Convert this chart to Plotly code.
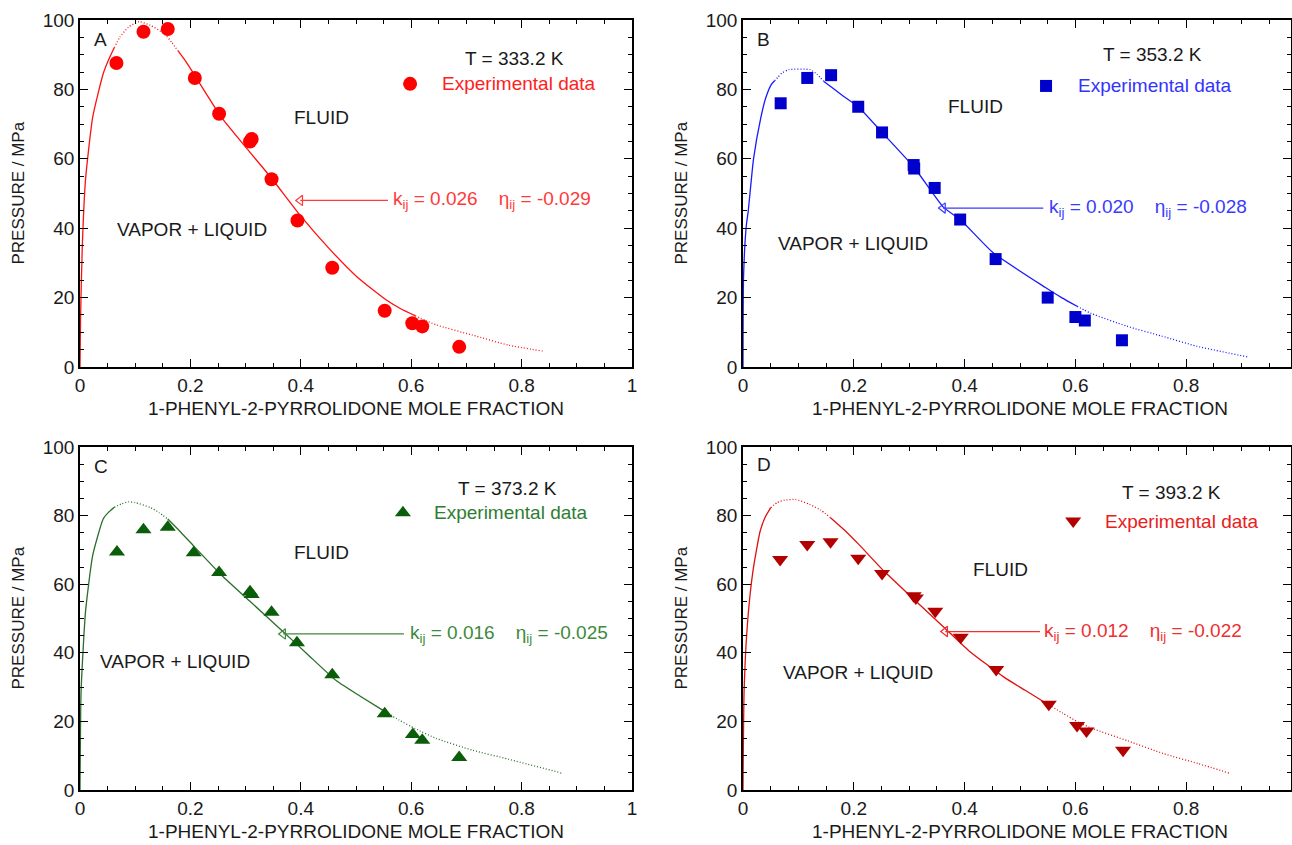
import plotly.graph_objects as go

# ---------------- data ----------------
# Panel A, T = 333.2 K
a_exp_x = [0.066, 0.115, 0.159, 0.208, 0.252, 0.308, 0.311, 0.347, 0.394, 0.457, 0.552, 0.602, 0.620, 0.687]
a_exp_p = [87.6, 96.6, 97.4, 83.3, 73.0, 65.0, 65.7, 54.1, 42.2, 28.6, 16.2, 12.6, 11.7, 5.8]
a_fit_x = [0, 0.001, 0.004, 0.010, 0.023, 0.042, 0.052, 0.062, 0.072, 0.088, 0.107, 0.127, 0.153, 0.166,
           0.178, 0.191, 0.204, 0.256, 0.302, 0.347, 0.399, 0.451, 0.503, 0.555, 0.581, 0.607, 0.626,
           0.646, 0.711, 0.776, 0.838]
a_fit_p = [0, 14, 34, 54, 72, 84.5, 88.6, 92, 95.0, 98, 99.5, 98.5, 96, 93.6,
           91, 88.2, 85, 72, 63, 54.4, 43.7, 34.2, 25.8, 19.3, 16.8, 14.8, 13.4,
           12.1, 9.2, 6.3, 4.6]
a_breaks = [0.062, 0.178, 0.607]

# Panel B, T = 353.2 K
b_exp_x = [0.068, 0.116, 0.159, 0.208, 0.251, 0.308, 0.309, 0.346, 0.392, 0.456, 0.550, 0.600, 0.617, 0.684]
b_exp_p = [76.0, 83.3, 84.1, 75.0, 67.6, 58.2, 57.2, 51.6, 42.5, 31.1, 20.0, 14.4, 13.4, 7.7]
b_fit_x = [0, 0.001, 0.006, 0.0095, 0.019, 0.032, 0.041, 0.051, 0.057, 0.063, 0.070, 0.083, 0.121, 0.134,
           0.146, 0.160, 0.180, 0.208, 0.251, 0.309, 0.362, 0.392, 0.451, 0.546, 0.575, 0.603, 0.616,
           0.629, 0.692, 0.756, 0.819, 0.911]
b_fit_p = [0, 26, 40.8, 45, 60, 71.7, 77.5, 81.4, 82.5, 83.5, 84.7, 85.7, 85.7, 84.3,
           82.3, 80.6, 78.2, 75, 67.6, 57.5, 46, 42.5, 33, 22.9, 20.0, 17.5, 16.4,
           15.4, 11.8, 8.9, 6.0, 2.9]
b_breaks = [0.057, 0.146, 0.603]

# Panel C, T = 373.2 K
c_exp_x = [0.067, 0.115, 0.159, 0.206, 0.252, 0.308, 0.311, 0.347, 0.393, 0.457, 0.552, 0.603, 0.620, 0.687]
c_exp_p = [69.4, 75.9, 76.6, 69.2, 63.4, 57.8, 57.0, 51.8, 42.9, 33.6, 22.2, 16.2, 14.5, 9.5]
c_fit_x = [0, 0.002, 0.010, 0.023, 0.042, 0.052, 0.062, 0.075, 0.088, 0.100, 0.127, 0.143, 0.159, 0.180,
           0.205, 0.256, 0.308, 0.367, 0.412, 0.464, 0.507, 0.549, 0.578, 0.607, 0.646, 0.711, 0.776, 0.873]
c_fit_p = [0, 29, 52, 68.4, 79, 81.0, 82.4, 83.4, 84, 83.8, 82.4, 80.9, 79, 75.6,
           71.3, 62.7, 55, 46.3, 39.6, 31.9, 27.4, 23.2, 20.4, 17.9, 15, 11.6, 9.0, 4.9]
c_breaks = [0.062, 0.159, 0.549]

# Panel D, T = 393.2 K
d_exp_x = [0.067, 0.116, 0.158, 0.208, 0.251, 0.308, 0.312, 0.347, 0.393, 0.457, 0.552, 0.603, 0.620, 0.686]
d_exp_p = [67.2, 71.6, 72.4, 67.6, 63.1, 56.6, 56.0, 52.1, 44.5, 35.1, 25.0, 18.8, 17.2, 11.6]
d_fit_x = [0, 0.002, 0.008, 0.018, 0.031, 0.040, 0.050, 0.062, 0.075, 0.095, 0.120, 0.140, 0.158, 0.183,
           0.209, 0.254, 0.305, 0.363, 0.407, 0.471, 0.510, 0.548, 0.577, 0.605, 0.631, 0.695, 0.759,
           0.822, 0.880]
d_fit_p = [0, 29, 48.4, 63.9, 75.5, 79.5, 82.3, 83.8, 84.5, 84.7, 83.3, 81.6, 79.4, 75.8,
           71.6, 63.9, 56.1, 47.4, 40.7, 32.9, 29.0, 25.2, 22.4, 19.8, 17.9, 14.3, 10.6,
           7.7, 4.8]
d_breaks = [0.050, 0.158, 0.548]

labels = ["A", "B", "C", "D"]
temps = ["T = 333.2 K", "T = 353.2 K", "T = 373.2 K", "T = 393.2 K"]
kij = ["0.026", "0.020", "0.016", "0.012"]
etaij = ["-0.029", "-0.028", "-0.025", "-0.022"]
x_tick_vals = [0, 0.2, 0.4, 0.6, 0.8, 1]
x_tick_text = ["0", "0.2", "0.4", "0.6", "0.8", "1"]
y_tick_vals = [0, 20, 40, 60, 80, 100]
x_title = "1-PHENYL-2-PYRROLIDONE MOLE FRACTION"
y_title = "PRESSURE / MPa"

# ---------------- layout / style config ----------------
W, H = 1292, 845
FONT = "Liberation Sans, Arial, sans-serif"
DARK = "#1a1a1a"

panels = [
    dict(xs=a_exp_x, ps=a_exp_p, fx=a_fit_x, fp=a_fit_p, br=a_breaks,
         sym="circle", msize=14, mcol="#ff0000", lcol="#ff1010", tcol="#ff2020", kcol="#ff3a3a",
         xd=[80, 632], yd=[20, 367], xend=632,
         lab=(0.022, 94.5), T=(0.788, 89), leg=(0.598, 81.6), legtx=0.652,
         fluid=(0.438, 71.8), vl=(0.203, 39.5), arr=(0.399, 0.558, 48.0), ktx=0.563),
    dict(xs=b_exp_x, ps=b_exp_p, fx=b_fit_x, fp=b_fit_p, br=b_breaks,
         sym="square", msize=12, mcol="#0000cc", lcol="#1a1aff", tcol="#3333ff", kcol="#3a3aff",
         xd=[743, 1291], yd=[20, 367], xend=1297,
         lab=(0.022, 94.5), T=(0.74, 90), leg=(0.547, 81), legtx=0.601,
         fluid=(0.42, 75.2), vl=(0.199, 35.7), arr=(0.361, 0.542, 45.8), ktx=0.549),
    dict(xs=c_exp_x, ps=c_exp_p, fx=c_fit_x, fp=c_fit_p, br=c_breaks,
         sym="triangle-up", msize=14, mcol="#0a5e0a", lcol="#2a6e2a", tcol="#2e7d32", kcol="#3d8a3d",
         xd=[80, 632], yd=[447, 790], xend=632,
         lab=(0.022, 94.2), T=(0.774, 88), leg=(0.585, 80.8), legtx=0.638,
         fluid=(0.438, 69.1), vl=(0.172, 37.6), arr=(0.368, 0.587, 45.5), ktx=0.594),
    dict(xs=d_exp_x, ps=d_exp_p, fx=d_fit_x, fp=d_fit_p, br=d_breaks,
         sym="triangle-down", msize=14, mcol="#b30000", lcol="#e01010", tcol="#e82020", kcol="#ee3030",
         xd=[743, 1291], yd=[447, 790], xend=1297,
         lab=(0.022, 95.0), T=(0.774, 86.6), leg=(0.596, 78.4), legtx=0.65,
         fluid=(0.464, 64.4), vl=(0.208, 34.4), arr=(0.365, 0.536, 46.2), ktx=0.54),
]

fig = go.Figure()
annotations = []
NB = "\u00a0"

for i, pn in enumerate(panels):
    n = "" if i == 0 else str(i + 1)
    xa, ya = "x" + n, "y" + n
    # fitted curve: alternating solid / dotted segments
    fx, fp = pn["fx"], pn["fp"]
    cut = [0] + [fx.index(b) for b in pn["br"]] + [len(fx) - 1]
    for s in range(len(cut) - 1):
        i0, i1 = cut[s], cut[s + 1]
        fig.add_trace(go.Scatter(
            x=fx[i0:i1 + 1], y=fp[i0:i1 + 1], xaxis=xa, yaxis=ya, mode="lines",
            line=dict(color=pn["lcol"], width=1.3, dash="solid" if s % 2 == 0 else "1px,2px",
                      shape="spline", smoothing=0.5),
            showlegend=False, hoverinfo="skip"))
    # experimental points
    fig.add_trace(go.Scatter(
        x=pn["xs"], y=pn["ps"], xaxis=xa, yaxis=ya, mode="markers",
        marker=dict(symbol=pn["sym"], size=pn["msize"], color=pn["mcol"], line=dict(width=0)),
        showlegend=False))
    # legend marker
    fig.add_trace(go.Scatter(
        x=[pn["leg"][0]], y=[pn["leg"][1]], xaxis=xa, yaxis=ya, mode="markers",
        marker=dict(symbol=pn["sym"], size=pn["msize"], color=pn["mcol"], line=dict(width=0)),
        showlegend=False, hoverinfo="skip"))
    # arrow
    tip, tail, ap = pn["arr"]
    fig.add_trace(go.Scatter(
        x=[tip, tail], y=[ap, ap], xaxis=xa, yaxis=ya, mode="lines",
        line=dict(color=pn["kcol"], width=1.3), showlegend=False, hoverinfo="skip"))
    fig.add_trace(go.Scatter(
        x=[tip], y=[ap], xaxis=xa, yaxis=ya, mode="markers",
        marker=dict(symbol="triangle-left-open", size=9, color=pn["kcol"],
                    line=dict(width=1.2, color=pn["kcol"])),
        showlegend=False, hoverinfo="skip"))

    tf = dict(family=FONT, size=19, color=DARK)
    annotations += [
        dict(x=pn["lab"][0], y=pn["lab"][1], xref=xa, yref=ya, text=labels[i], showarrow=False,
             xanchor="left", yanchor="middle", font=tf),
        dict(x=pn["T"][0], y=pn["T"][1], xref=xa, yref=ya, text=temps[i], showarrow=False,
             xanchor="center", yanchor="middle", font=tf),
        dict(x=pn["legtx"], y=pn["leg"][1], xref=xa, yref=ya, text="Experimental data", showarrow=False,
             xanchor="left", yanchor="middle", font=dict(family=FONT, size=19, color=pn["tcol"])),
        dict(x=pn["fluid"][0], y=pn["fluid"][1], xref=xa, yref=ya, text="FLUID", showarrow=False,
             xanchor="center", yanchor="middle", font=tf),
        dict(x=pn["vl"][0], y=pn["vl"][1], xref=xa, yref=ya, text="VAPOR + LIQUID", showarrow=False,
             xanchor="center", yanchor="middle", font=tf),
        dict(x=pn["ktx"], y=pn["arr"][2], xref=xa, yref=ya,
             text="k<sub>ij</sub> = " + kij[i] + NB * 4 + "η<sub>ij</sub> = " + etaij[i],
             showarrow=False, xanchor="left", yanchor="middle",
             font=dict(family=FONT, size=19, color=pn["kcol"])),
    ]
    # axis titles
    xc = (pn["xd"][0] + pn["xend"]) / 2.0
    annotations.append(dict(x=xc / W, y=1 - (pn["yd"][1] + 41) / H, xref="paper", yref="paper",
                            text=x_title, showarrow=False, xanchor="center", yanchor="middle",
                            font=dict(family=FONT, size=19, color=DARK)))
    annotations.append(dict(x=(pn["xd"][0] - 62) / W, y=1 - (pn["yd"][0] + pn["yd"][1]) / 2.0 / H,
                            xref="paper", yref="paper", text=y_title, textangle=-90, showarrow=False,
                            xanchor="center", yanchor="middle",
                            font=dict(family=FONT, size=17, color=DARK)))

    axis_common = dict(showline=True, linecolor="black", linewidth=1.5, mirror="ticks",
                       ticks="inside", ticklen=8, tickwidth=1.3, tickcolor="black",
                       showgrid=False, zeroline=False, automargin=False,
                       tickfont=dict(family=FONT, size=19, color=DARK))
    fig.update_layout(**{
        "xaxis" + n: dict(axis_common, domain=[pn["xd"][0] / W, pn["xd"][1] / W],
                          range=[0, 1] if pn["xend"] == pn["xd"][1] else
                          [0, (pn["xd"][1] - pn["xd"][0]) / (pn["xend"] - pn["xd"][0])],
                          tickvals=x_tick_vals, ticktext=x_tick_text,
                          minor=dict(ticks="inside", ticklen=4, dtick=0.05, tickcolor="black", tickwidth=1),
                          anchor=ya),
        "yaxis" + n: dict(axis_common, domain=[1 - pn["yd"][1] / H, 1 - pn["yd"][0] / H], range=[0, 100],
                          tickvals=y_tick_vals,
                          minor=dict(ticks="inside", ticklen=4, dtick=5, tickcolor="black", tickwidth=1),
                          anchor=xa),
    })

fig.update_layout(width=W, height=H, margin=dict(l=0, r=0, t=0, b=0, autoexpand=False),
                  paper_bgcolor="white", plot_bgcolor="white",
                  annotations=annotations, showlegend=False)
fig.write_html("out.html", config={"displayModeBar": False},
               post_script="document.body.style.margin='0';document.body.style.overflow='hidden';")
